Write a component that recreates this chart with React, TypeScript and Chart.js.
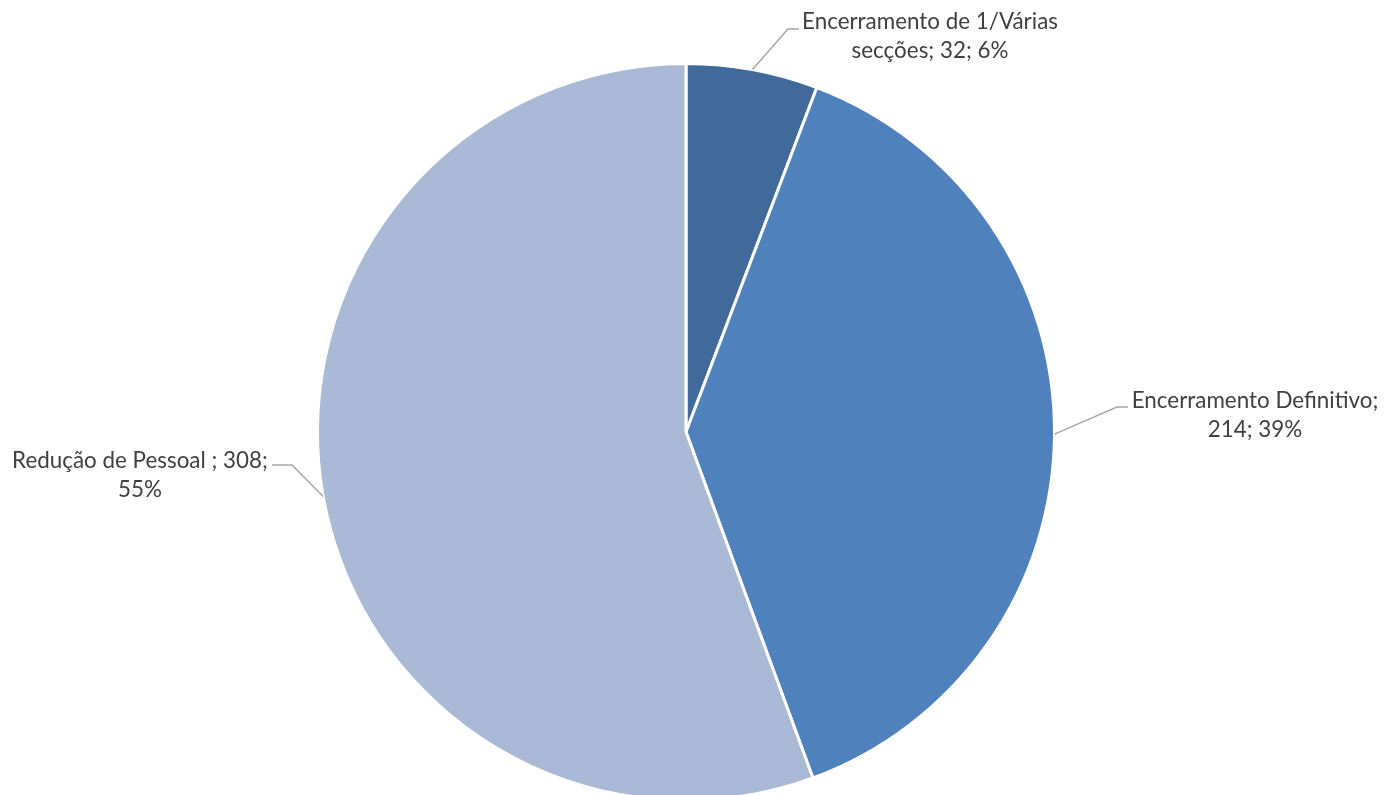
import React, { useEffect, useRef } from "react";
import { Chart, registerables } from "chart.js";

Chart.register(...registerables);

const categories = ["Encerramento de 1/Várias secções", "Encerramento Definitivo", "Redução de Pessoal "];
const values = [32, 214, 308];
const labelLines = [
  ["Encerramento de 1/Várias", "secções; 32; 6%"],
  ["Encerramento Definitivo;", "214; 39%"],
  ["Redução de Pessoal ; 308;", "55%"],
];
const colors = ["#416A9B", "#4F81BD", "#AAB9D6"];

// label layout: text centre, elbow point, horizontal end (canvas px)
const labelLayout = [
  { cx: 930, y1: 22, elbow: [788, 29], end: [799, 29] },
  { cx: 1255, y1: 401, elbow: [1117, 407], end: [1128, 407] },
  { cx: 140, y1: 461, elbow: [292, 465], end: [272, 465] },
];

const labelPlugin = {
  id: "pieLabels",
  afterDraw(chart: any) {
    const ctx = chart.ctx;
    const meta = chart.getDatasetMeta(0);
    ctx.save();
    meta.data.forEach((arc: any, i: number) => {
      const p = arc.getProps(["x", "y", "startAngle", "endAngle", "outerRadius"], true);
      const mid = (p.startAngle + p.endAngle) / 2;
      const sx = p.x + Math.cos(mid) * p.outerRadius;
      const sy = p.y + Math.sin(mid) * p.outerRadius;
      const L = labelLayout[i];
      ctx.strokeStyle = "#A6A6A6";
      ctx.lineWidth = 1.5;
      ctx.beginPath();
      ctx.moveTo(sx, sy);
      ctx.lineTo(L.elbow[0], L.elbow[1]);
      ctx.lineTo(L.end[0], L.end[1]);
      ctx.stroke();
      ctx.fillStyle = "#404040";
      ctx.font = "22.4px Lato";
      ctx.textAlign = "center";
      ctx.textBaseline = "middle";
      labelLines[i].forEach((t, j) => {
        ctx.fillText(t, L.cx, L.y1 + j * 29);
      });
    });
    ctx.restore();
  },
};

export default function App() {
  const ref = useRef<HTMLCanvasElement>(null);
  useEffect(() => {
    if (!ref.current) return;
    const chart = new Chart(ref.current, {
      type: "pie",
      data: {
        labels: categories,
        datasets: [
          {
            data: values,
            backgroundColor: colors,
            borderColor: "#FFFFFF",
            borderWidth: 3,
          },
        ],
      },
      options: {
        responsive: false,
        animation: false,
        layout: { padding: { top: 62, bottom: 62, left: 0, right: 12 } },
        plugins: {
          legend: { display: false },
          tooltip: { enabled: false },
        },
      },
      plugins: [labelPlugin],
    });
    return () => chart.destroy();
  }, []);
  return (
    <div style={{ position: "fixed", left: 0, top: 0, width: 1384, height: 795, overflow: "hidden", background: "#fff" }}>
      <canvas ref={ref} width={1384} height={864} style={{ width: 1384, height: 864, display: "block" }} />
    </div>
  );
}
